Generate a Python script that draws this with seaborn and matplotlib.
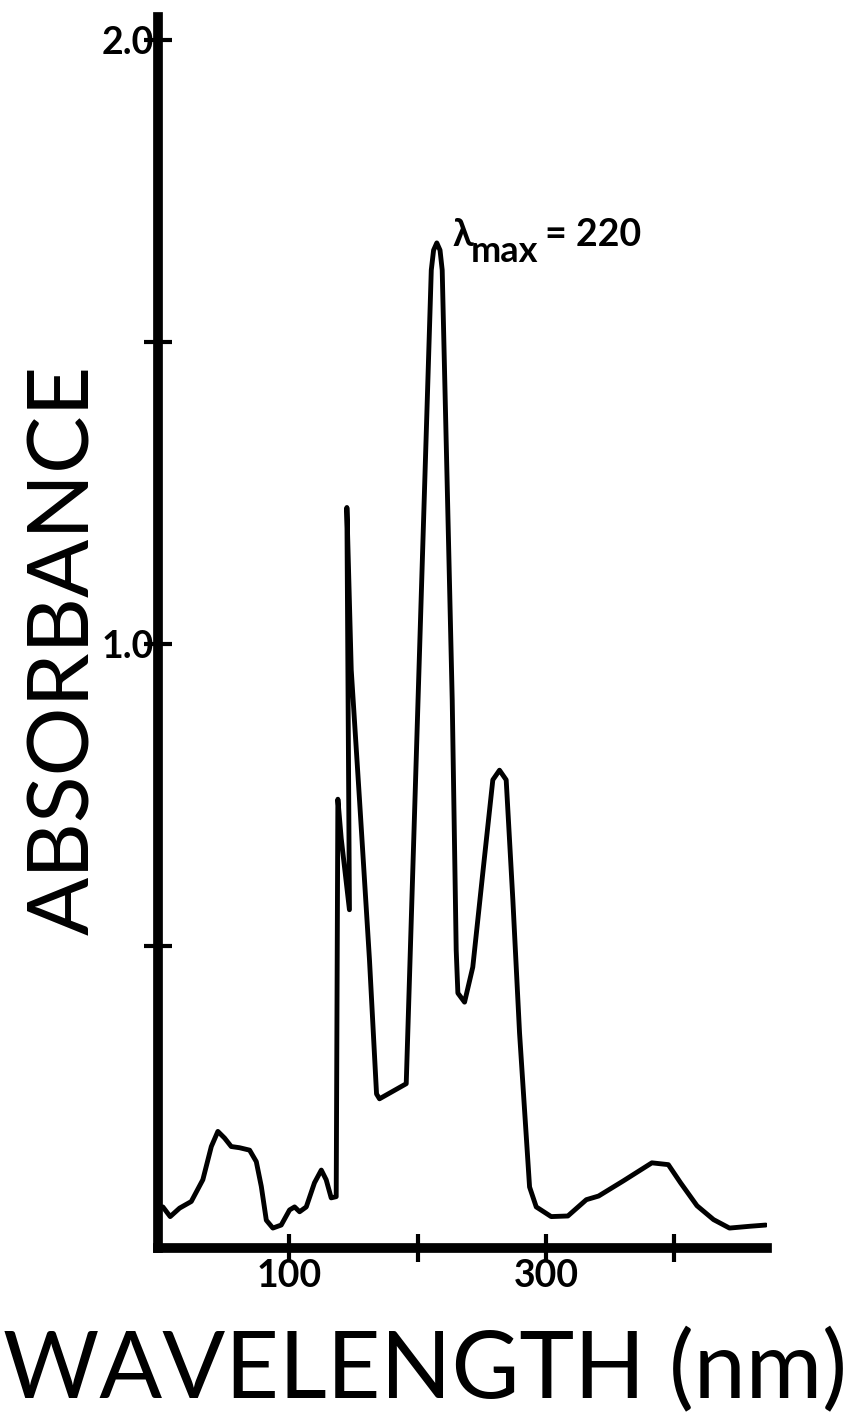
import pandas as pd
import seaborn as sns
import matplotlib.pyplot as plt

# spectrum (wavelength in nm, absorbance)
wavelength = [1.8, 7.5, 14.8, 23.9, 32.9, 39.5, 44.6, 49.8, 55.0, 61.5, 69.3, 74.5,
              78.4, 82.3, 87.4, 93.9, 100.4, 104.3, 108.2, 113.4, 119.8, 125.1, 128.9,
              132.8, 136.7, 138.0, 140.6, 147.0, 145.0, 148.4, 154.9, 162.6, 168.1, 170.4,
              191.2, 210.7, 212.5, 215.0, 217.5, 219.2, 227.0, 230.1, 231.4, 236.6, 243.0,
              250.8, 258.6, 263.8, 269.0, 274.2, 279.4, 287.2, 292.4, 304.0, 317.0,
              331.4, 340.9, 360.1, 382.4, 395.2, 404.7, 417.5, 430.4, 442.8, 458.8, 471.0]
absorbance = [0.068, 0.052, 0.066, 0.077, 0.113, 0.168, 0.193, 0.182, 0.168, 0.166, 0.162, 0.143,
              0.102, 0.046, 0.033, 0.038, 0.063, 0.068, 0.060, 0.068, 0.108, 0.129, 0.113,
              0.083, 0.085, 0.743, 0.678, 0.560, 1.226, 0.957, 0.740, 0.477, 0.255, 0.247,
              0.272, 1.619, 1.652, 1.664, 1.652, 1.619, 0.907, 0.493, 0.422, 0.407, 0.465,
              0.621, 0.775, 0.791, 0.775, 0.576, 0.356, 0.101, 0.068, 0.052, 0.053,
              0.080, 0.086, 0.111, 0.141, 0.138, 0.108, 0.070, 0.047, 0.033, 0.036, 0.038]

ytick_pos = [0.5, 1.0, 1.5, 2.0]
ytick_labels = ["", "1.0", "", "2.0"]
xtick_pos = [100, 200, 300, 400]
xtick_labels = ["100", "", "300", ""]

# where the lambda-max note sits (data coords)
note_x, note_y = 227, 1.677

sns.set_style("white")
plt.rcParams['font.family'] = ['Lato', 'DejaVu Sans']
plt.rcParams['text.color'] = 'black'
plt.rcParams['axes.labelcolor'] = 'black'

df = pd.DataFrame({"wavelength": wavelength, "absorbance": absorbance})

fig = plt.figure(figsize=(8.49, 14.2), dpi=100)
ax = fig.add_axes([158 / 849, 1 - 1248 / 1420, (767 - 158) / 849, (1248 - 17) / 1420])
sns.lineplot(data=df, x="wavelength", y="absorbance", sort=False, estimator=None,
             color="black", linewidth=3.5, ax=ax)

ax.set_xlim(-2, 472)
ax.set_ylim(0, 2.038)

for side in ["top", "right"]:
    ax.spines[side].set_visible(False)
for side in ["left", "bottom"]:
    ax.spines[side].set_linewidth(7)
    ax.spines[side].set_color("black")

ax.set_yticks(ytick_pos)
ax.set_yticklabels(ytick_labels, fontweight="bold")
ax.set_xticks(xtick_pos)
ax.set_xticklabels(xtick_labels, fontweight="bold")
ax.tick_params(left=True, bottom=True, direction="inout", length=20, width=3,
               labelsize=27, colors="black")
ax.tick_params(axis="y", pad=-7)
ax.tick_params(axis="x", pad=-2)

# lambda max note: symbol, subscript and value
ax.annotate("λ", xy=(note_x, note_y), fontsize=27, fontweight="bold",
            va="center", ha="left")
ax.annotate("max", xy=(note_x, note_y), xytext=(13, -11.5), textcoords="offset points",
            fontsize=26, fontweight="bold", va="center", ha="left")
ax.annotate("= 220", xy=(note_x, note_y), xytext=(67, 0), textcoords="offset points",
            fontsize=27, fontweight="bold", va="center", ha="left")

ax.set_xlabel("WAVELENGTH (nm)", fontsize=67)
ax.xaxis.set_label_coords(0.438, -0.065)
ax.set_ylabel("ABSORBANCE", fontsize=62)
ax.yaxis.set_label_coords(-0.089, 0.486)

fig.savefig("out.png", dpi=100)
plt.close()
